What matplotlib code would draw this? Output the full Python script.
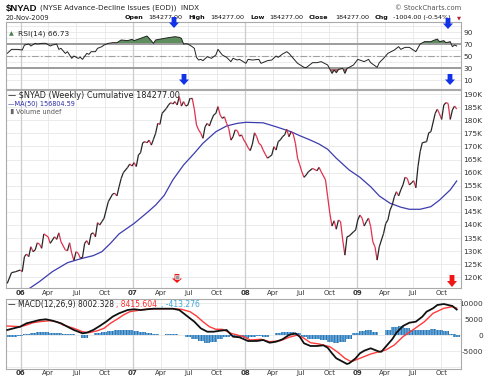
import numpy as np
import matplotlib
matplotlib.use("Agg")
import matplotlib.pyplot as plt
import matplotlib.dates as mdates
from matplotlib.collections import LineCollection
from matplotlib.patches import Polygon, Rectangle

# weekly closes, week 0 = 18-Nov-2005, last week (209) = 20-Nov-2009
first_week = "2005-11-18"

# $NYAD cumulative A-D line (thousands)
nyad_wk = [0, 2, 4, 6, 7, 8, 9, 10, 11, 12,
           13, 14, 15, 16, 17, 19, 20, 22, 23, 24,
           25, 27, 28, 29, 30, 31, 32, 33, 34, 35,
           36, 37, 38, 39, 40, 41, 42, 43, 44, 45,
           46, 47, 49, 50, 51, 52, 53, 54, 56, 57,
           58, 59, 60, 61, 62, 63, 64, 65, 66, 67,
           68, 69, 70, 71, 72, 74, 75, 76, 77, 78,
           79, 80, 81, 82, 83, 84, 85, 86, 87, 88,
           89, 90, 91, 92, 93, 94, 95, 96, 97, 98,
           99, 100, 101, 102, 103, 104, 105, 106, 107, 108,
           109, 110, 111, 112, 113, 114, 115, 116, 117, 118,
           119, 120, 121, 122, 123, 124, 125, 126, 127, 128,
           129, 130, 131, 132, 133, 134, 135, 136, 137, 138,
           139, 140, 142, 144, 145, 146, 148, 149, 150, 151,
           152, 153, 154, 155, 156, 157, 158, 159, 161, 162,
           163, 164, 165, 166, 167, 168, 169, 170, 171, 172,
           173, 175, 176, 177, 178, 179, 180, 181, 182, 183,
           184, 185, 186, 187, 188, 189, 190, 191, 192, 193,
           195, 196, 197, 199, 200, 201, 202, 203, 204, 205,
           206, 207, 208, 209]
nyad_k = [117.7, 121.8, 122.2, 122.8, 122.2, 127.9, 128.9, 127.9, 131.7, 129.8,
          130.5, 133.2, 132.7, 131.1, 136.6, 135.5, 133.0, 135.5, 134.5, 137.0,
          133.6, 130.5, 130.2, 133.2, 129.2, 126.4, 129.8, 129.2, 127.3, 127.7,
          133.0, 134.0, 132.4, 136.6, 137.0, 135.5, 140.9, 140.0, 141.3, 142.5,
          145.7, 148.9, 151.8, 152.1, 151.1, 154.6, 157.8, 160.0, 162.0, 163.3,
          162.5, 163.8, 162.3, 166.7, 167.6, 171.4, 171.8, 171.4, 172.4, 170.5,
          172.7, 175.0, 178.8, 178.4, 182.6, 184.5, 185.8, 186.7, 186.2, 187.1,
          185.8, 189.0, 185.4, 187.1, 185.4, 185.8, 188.4, 188.4, 184.2, 178.2,
          176.3, 175.0, 173.1, 177.5, 178.8, 177.8, 180.1, 182.0, 182.6, 185.2,
          182.0, 180.7, 181.3, 178.8, 176.9, 172.4, 173.7, 176.3, 176.0, 173.9,
          174.4, 172.4, 171.2, 169.5, 168.4, 170.9, 175.2, 173.7, 171.2, 170.5,
          168.6, 167.0, 165.5, 166.1, 166.7, 169.9, 168.6, 171.8, 172.5, 173.7,
          174.4, 176.5, 173.7, 175.6, 174.7, 171.2, 165.5, 163.0, 160.3, 158.2,
          159.1, 160.3, 161.6, 160.7, 162.0, 160.3, 157.2, 150.8, 144.5, 139.6,
          141.6, 138.4, 141.9, 141.3, 134.3, 128.5, 135.5, 135.8, 137.4, 138.1,
          141.9, 143.8, 142.6, 139.6, 141.3, 142.6, 139.4, 133.6, 131.7, 126.6,
          131.7, 136.8, 140.6, 141.9, 145.7, 147.6, 150.8, 152.7, 151.1, 153.4,
          155.3, 158.2, 157.8, 155.3, 156.1, 156.9, 154.2, 162.3, 168.0, 171.4,
          171.8, 175.2, 175.6, 182.6, 184.2, 182.4, 180.3, 185.8, 186.7, 186.4,
          180.3, 183.9, 185.4, 184.277]

# MA(50)
ma_wk = [10, 15, 21, 28, 32, 35, 40, 44, 48, 52, 59, 65, 69, 73, 77, 82, 87, 91, 97,
         102, 107, 111, 119, 125, 132, 136, 141, 145, 149, 153, 159, 164, 169, 173,
         178, 183, 187, 192, 197, 201, 206, 209]
ma_k = [115.6, 118.4, 122.2, 125.6, 126.6, 127.3, 128.3, 129.8, 133.0, 136.6, 140.6,
        144.7, 147.6, 151.3, 157.2, 162.9, 167.4, 171.2, 175.6, 177.8, 178.8, 179.2,
        179.0, 177.5, 175.6, 174.1, 172.4, 170.9, 168.9, 165.5, 161.0, 158.2, 154.6,
        151.1, 148.3, 146.8, 146.0, 146.0, 147.0, 149.5, 153.4, 156.8]

# RSI(14)
rsi_wk = [0, 2, 5, 7, 8, 10, 11, 13, 14, 16,
          18, 20, 21, 23, 24, 25, 27, 28, 30, 31,
          33, 34, 35, 37, 38, 39, 41, 42, 44, 45,
          47, 49, 51, 53, 56, 58, 59, 62, 65, 66,
          68, 69, 73, 76, 78, 80, 81, 82, 83, 84,
          86, 87, 88, 89, 90, 91, 93, 95, 97, 98,
          100, 102, 104, 105, 107, 108, 111, 112, 114, 117,
          118, 121, 123, 125, 126, 128, 130, 131, 133, 135,
          138, 139, 142, 144, 146, 149, 151, 152, 153, 154,
          156, 157, 158, 159, 161, 163, 166, 168, 169, 172,
          173, 175, 177, 180, 182, 183, 185, 187, 190, 192,
          194, 197, 198, 200, 201, 203, 204, 206, 207, 208,
          209]
rsi_val = [54.4, 61.1, 61.0, 60.0, 68.3, 70.0, 66.7, 71.1, 70.0, 71.1,
           71.1, 66.7, 68.3, 70.0, 61.1, 62.8, 54.4, 57.2, 46.1, 50.0,
           46.1, 47.8, 44.4, 54.4, 52.8, 57.2, 57.2, 62.8, 65.6, 68.3,
           71.1, 72.2, 72.2, 76.7, 75.6, 77.8, 75.6, 79.4, 83.3, 79.4,
           71.1, 76.7, 79.4, 81.1, 82.2, 81.1, 79.4, 70.0, 70.5, 70.0,
           65.6, 62.8, 47.8, 43.3, 44.4, 42.2, 48.9, 46.1, 51.7, 61.1,
           51.7, 47.8, 40.6, 46.1, 43.3, 44.4, 37.8, 44.4, 43.3, 44.4,
           37.8, 42.2, 43.3, 50.0, 47.8, 53.3, 57.2, 54.4, 46.1, 37.8,
           31.1, 30.6, 38.9, 38.9, 40.6, 35.0, 21.1, 26.7, 22.2, 27.8,
           29.4, 21.1, 29.4, 31.1, 35.0, 44.4, 40.6, 44.4, 38.9, 31.1,
           38.9, 46.1, 54.4, 60.0, 65.6, 61.1, 64.4, 64.4, 57.2, 70.0,
           73.9, 73.9, 75.6, 78.3, 73.9, 75.6, 72.2, 73.9, 65.6, 68.3,
           66.73]

# MACD(12,26,9)
macd_wk = [0, 3, 6, 9, 12, 15, 18, 21, 25, 28,
           31, 35, 37, 40, 43, 46, 49, 52, 56, 59,
           62, 65, 68, 71, 74, 77, 80, 83, 87, 90,
           93, 96, 99, 102, 105, 108, 112, 116, 119, 122,
           125, 128, 131, 134, 136, 138, 141, 144, 147, 149,
           151, 153, 156, 158, 159, 162, 164, 166, 169, 171,
           173, 174, 176, 179, 181, 184, 187, 190, 193, 195,
           198, 200, 203, 205, 207, 209]
macd_val = [1650, 2170, 2670, 3730, 4230, 4750, 4970, 4540, 3730, 2670,
            1650, 620, 810, 1650, 2890, 4230, 5780, 6830, 7860, 8080,
            7860, 8080, 8260, 8260, 8260, 8260, 7860, 6300, 4230, 2170,
            1120, 1120, 1430, 1650, -430, -620, -1770, -1770, -1460, -2300,
            -1990, -1240, 90, 620, -430, -2480, -3320, -3320, -3110, -3850,
            -5590, -7140, -8200, -8910, -8700, -7140, -5590, -4780, -4040, -4570,
            -5090, -5090, -3540, -1240, 810, 2890, 3910, 4230, 5780, 7330,
            8390, 9410, 9720, 9410, 9100, 8002]
sig_wk = [0, 6, 9, 12, 15, 20, 23, 26, 31, 35,
          38, 42, 45, 48, 51, 54, 57, 62, 66, 71,
          77, 81, 85, 88, 91, 94, 97, 100, 104, 107,
          110, 113, 118, 122, 127, 131, 135, 138, 141, 145,
          150, 154, 157, 160, 164, 169, 173, 176, 180, 184,
          189, 194, 198, 203, 207, 209]
sig_val = [2890, 2670, 3200, 3910, 4230, 4540, 4230, 3200, 2170, 1120,
           810, 1430, 2170, 3730, 4970, 6300, 7330, 7860, 8170, 8260,
           8260, 8080, 7330, 5990, 4230, 2670, 1860, 1860, 620, 90,
           -430, -1460, -1240, -1990, -1680, -620, 90, -930, -2300, -2700,
           -3540, -5400, -7140, -8200, -7140, -5810, -5090, -4570, -3010, -430,
           1860, 4230, 6830, 8390, 8880, 8416]
hist_wk = list(range(0, 208, 3)) + [209]
hist_val = [-600, -400, -100, 300, 700, 900, 900, 800, 700, 500,
            300, 0, -700, 100, 600, 1000, 1300, 1600, 1800, 1600,
            1300, 900, 600, 300, 100, 300, 400, 200, -400, -1100,
            -1900, -2400, -2000, -1200, -500, -300, -500, -700, -500, -300,
            -600, 200, 700, 1000, 1100, 600, -600, -1000, -1300, -1600,
            -2000, -2300, -2100, -1000, 600, 1400, 1600, 1000, 0, 1500,
            2500, 2900, 2400, 1600, 1500, 1700, 1900, 1700, 1200, 500,
            -413]

tick_dates = ["2006-01-01", "2006-04-01", "2006-07-01", "2006-10-01",
              "2007-01-01", "2007-04-01", "2007-07-01", "2007-10-01",
              "2008-01-01", "2008-04-01", "2008-07-01", "2008-10-01",
              "2009-01-01", "2009-04-01", "2009-07-01", "2009-10-01"]
tick_labels = ["06", "Apr", "Jul", "Oct", "07", "Apr", "Jul", "Oct",
               "08", "Apr", "Jul", "Oct", "09", "Apr", "Jul", "Oct"]

day0 = mdates.datestr2num(first_week)


def wk_to_x(weeks):
    return day0 + 7 * np.array(weeks, dtype=float)


tick_x = [mdates.datestr2num(d) for d in tick_dates]
year_x = [x for x, lab in zip(tick_x, tick_labels) if lab.isdigit()]

plt.rcParams["hatch.linewidth"] = 0.5

fig = plt.figure(figsize=(5, 3.78), dpi=100)
fig.patch.set_facecolor("white")


def fx(x):
    return x / 500.0


def fy(y):
    return 1 - y / 378.0


L, R = 6, 461
ax_rsi = fig.add_axes([fx(L), fy(89), fx(R) - fx(L), (89 - 22) / 378.0])
ax_main = fig.add_axes([fx(L), fy(288), fx(R) - fx(L), (288 - 90) / 378.0])
ax_macd = fig.add_axes([fx(L), fy(369), fx(R) - fx(L), (369 - 299) / 378.0])

for ax in (ax_rsi, ax_main, ax_macd):
    ax.set_xlim(mdates.datestr2num("2005-11-14"), mdates.datestr2num("2009-12-04"))
    ax.set_xticks(tick_x)
    ax.grid(True, color="#e8e8e8", lw=0.6)
    ax.set_axisbelow(True)
    for x in year_x:
        ax.axvline(x, color="#cccccc", lw=0.9, zorder=0.6)
    for s in ax.spines.values():
        s.set_color("#aaaaaa")
        s.set_linewidth(0.8)
    ax.yaxis.tick_right()
    ax.tick_params(length=0, labelsize=5.3, colors="#333333", pad=1.5)

ax_rsi.tick_params(labelbottom=False)
for ax in (ax_main, ax_macd):
    ax.set_xticklabels(tick_labels, fontsize=5)
    for lab in ax.get_xticklabels():
        if lab.get_text().isdigit():
            lab.set_fontweight("bold")
ax_main.tick_params(axis="x", pad=1.5)
ax_macd.tick_params(axis="x", pad=0.5)

# ---- RSI panel ----
rx = wk_to_x(rsi_wk)
rv = np.array(rsi_val)
ax_rsi.set_ylim(-5, 106.7)
ax_rsi.set_yticks([10, 20, 30, 40, 50, 60, 70, 80, 90, 100])
ax_rsi.set_yticklabels(["10", "", "30", "", "50", "", "70", "", "90", ""])
ax_rsi.fill_between(rx, rv, 70, where=rv >= 70, interpolate=True, color="#5e8e5e", lw=0)
ax_rsi.fill_between(rx, rv, 30, where=rv <= 30, interpolate=True, color="#b46a6a", lw=0)
ax_rsi.axhline(70, color="#9c9c9c", lw=1.4)
ax_rsi.axhline(30, color="#9c9c9c", lw=1.4)
ax_rsi.axhline(50, color="#a0a0a0", lw=0.8, dashes=(6, 2, 1.5, 2))
ax_rsi.plot(rx, rv, color="#222222", lw=0.7)
ax_rsi.text(0.026, 0.83, "RSI(14) 66.73", transform=ax_rsi.transAxes, fontsize=5.4,
            color="#222222", va="center")
ax_rsi.text(0.006, 0.83, "\u25b2", transform=ax_rsi.transAxes, fontsize=4.5,
            color="#4d7d4d", va="center")

# ---- price panel ----
px = wk_to_x(nyad_wk)
pv = np.array(nyad_k)
pts = np.column_stack([px, pv])
segs = np.stack([pts[:-1], pts[1:]], axis=1)
cols = np.where(np.diff(pv) < 0, "#e0304e", "#262626")
ax_main.add_collection(LineCollection(segs, colors=cols, lw=0.9, zorder=3))
ax_main.plot(wk_to_x(ma_wk), ma_k, color="#3c3cae", lw=0.9, zorder=2)
ax_main.set_ylim(115.95, 191.53)
yt = np.arange(120, 191, 5)
ax_main.set_yticks(yt)
ax_main.set_yticklabels(["%dK" % v for v in yt])

ax_main.text(0.004, 0.97, "\u2014 $NYAD (Weekly) Cumulative 184277.00",
             transform=ax_main.transAxes, fontsize=5.9, color="#222222", va="center")
ax_main.text(0.004, 0.93, "\u2014MA(50) 156804.59", transform=ax_main.transAxes,
             fontsize=4.7, color="#2c2ca8", va="center")
ax_main.text(0.021, 0.89, "Volume undef", transform=ax_main.transAxes,
             fontsize=4.7, color="#555555", va="center")
ax_main.text(0.004, 0.89, "\u2590\u258c", transform=ax_main.transAxes,
             fontsize=3.5, color="#666666", va="center")

# ---- MACD panel ----
ax_macd.set_ylim(-10467, 11275)
ax_macd.set_yticks([-10000, -5000, 0, 5000, 10000])
ax_macd.set_yticklabels(["", "-5000", "0", "5000", "10000"])
ax_macd.tick_params(axis="y", pad=15.8)
for lab in ax_macd.get_yticklabels():
    lab.set_horizontalalignment("right")
ax_macd.bar(wk_to_x(hist_wk), hist_val, width=3 * 7, color="#62a6d8",
            edgecolor="#1d5d9c", hatch="||||||", lw=0, zorder=2)
ax_macd.plot(wk_to_x(sig_wk), sig_val, color="#ff3b3b", lw=1.0, zorder=3)
ax_macd.plot(wk_to_x(macd_wk), macd_val, color="#111111", lw=1.3, zorder=4)

fig.text(fx(8), fy(304), "\u2014 MACD(12,26,9) 8002.328", fontsize=5.5, color="#222222", va="center")
fig.text(fx(116), fy(304), ", 8415.604", fontsize=5.5, color="#ff2e2e", va="center")
fig.text(fx(161), fy(304), ", -413.276", fontsize=5.5, color="#3ea6e0", va="center")

# ---- header ----
fig.text(fx(6), fy(8), "$NYAD", fontsize=6.8, fontweight="bold", family="Liberation Sans",
         color="#111111", va="center")
fig.text(fx(40), fy(8), "(NYSE Advance-Decline Issues (EOD))  INDX", fontsize=5.2,
         color="#222222", va="center")
fig.text(fx(6), fy(17.5), "20-Nov-2009", fontsize=4.9, color="#222222", va="center")
fig.text(fx(461), fy(8), "\u00a9 StockCharts.com", fontsize=4.9, color="#555555",
         va="center", ha="right")
head_items = [(125, "Open", True), (148, "184277.00", False),
              (188, "High", True), (210, "184277.00", False),
              (250, "Low", True), (269, "184277.00", False),
              (309, "Close", True), (335, "184277.00", False),
              (375, "Chg", True), (393, "-1004.00 (-0.54%)", False)]
for x, s, bold in head_items:
    fig.text(fx(x), fy(17.5), s, fontsize=4.6, color="#111111", va="center",
             fontweight="bold" if bold else "normal")
fig.text(fx(459), fy(17.5), "\u25bc", fontsize=3.8, color="#b8203c", va="center", ha="center")


# ---- signal arrows ----
def arrow(cx, ytop, ybot, w, color):
    h = ybot - ytop
    verts = [(cx - w * 0.24, ytop), (cx + w * 0.24, ytop), (cx + w * 0.24, ytop + h * 0.5),
             (cx + w * 0.5, ytop + h * 0.5), (cx, ybot), (cx - w * 0.5, ytop + h * 0.5),
             (cx - w * 0.24, ytop + h * 0.5)]
    fig.add_artist(Polygon([(fx(a), fy(b)) for a, b in verts], closed=True,
                           transform=fig.transFigure, facecolor=color, edgecolor="none",
                           zorder=10))


arrow(174, 17, 28, 10, "#1232e8")
arrow(448, 18, 29, 10, "#1232e8")
arrow(184, 74, 85, 10, "#1232e8")
arrow(450, 74, 85, 10, "#1232e8")
arrow(177, 274, 283, 10, "#f01414")
arrow(452, 275, 287, 10, "#f01414")
fig.add_artist(Rectangle((fx(175), fy(279)), fx(4), 4 / 378.0, transform=fig.transFigure,
                         facecolor="#9a9a9a", edgecolor="white", lw=0.4, zorder=11))

fig.savefig("out.png", dpi=100, facecolor="white")
